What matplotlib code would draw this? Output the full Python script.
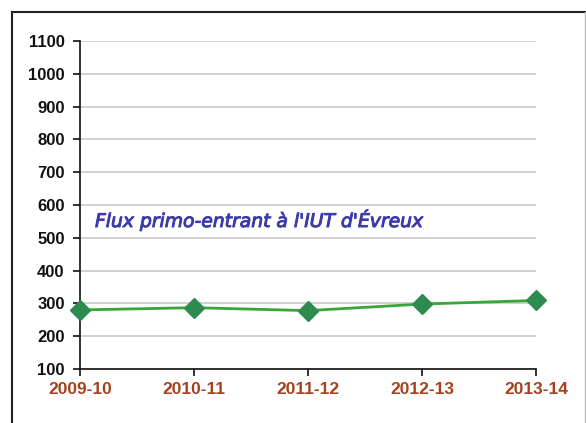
import matplotlib.pyplot as plt
import matplotlib.patheffects as pe
from matplotlib.lines import Line2D

# data
years = ['2009-10', '2010-11', '2011-12', '2012-13', '2013-14']
flux = [280, 287, 278, 298, 309]
y_ticks = list(range(100, 1101, 100))

title = "Flux primo-entrant à l'IUT d'Évreux"

plt.rcParams['font.family'] = ['Liberation Sans', 'DejaVu Sans']

fig = plt.figure(figsize=(5.86, 4.23), dpi=100)
ax = fig.add_axes([80 / 586, 1 - 369 / 423, 456 / 586, 328 / 423])

# outer frame (left/top dark, right faint)
fig.add_artist(Line2D([12 / 586, 12 / 586], [0, 1 - 12 / 423], color='#222222', lw=1.5))
fig.add_artist(Line2D([12 / 586, 585 / 586], [1 - 12 / 423, 1 - 12 / 423], color='#222222', lw=1.5))
fig.add_artist(Line2D([585 / 586, 585 / 586], [0, 1 - 12 / 423], color='#bbbbbb', lw=1))

x = list(range(len(years)))
ax.plot(x, flux, color='#3aa63a', lw=2, marker='D', markersize=10,
        markerfacecolor='#2e8b50', markeredgecolor='#2e8b50', zorder=3, clip_on=False)

ax.set_xlim(0, len(years) - 1)
ax.set_ylim(100, 1100)
ax.set_yticks(y_ticks)
ax.set_xticks(x)
ax.set_xticklabels(years, color='#a5421e', fontweight='bold', fontsize=12.5)
ax.set_yticklabels([str(v) for v in y_ticks], fontweight='bold', fontsize=12, color='#111111')
ax.tick_params(axis='both', direction='out', length=5, width=1.2, color='#111111')
ax.tick_params(axis='x', pad=4)
ax.tick_params(axis='y', pad=6)

ax.grid(axis='y', color='#c8c8c8', lw=1.2)
ax.set_axisbelow(True)
for side in ['top', 'right']:
    ax.spines[side].set_visible(False)
for side in ['left', 'bottom']:
    ax.spines[side].set_linewidth(1.2)
    ax.spines[side].set_color('#111111')

ax.text(95 / 586, 1 - 220 / 423, title, transform=fig.transFigure, fontsize=13.5,
        family='DejaVu Sans', style='oblique', fontweight='normal', color='#3a3aaa',
        va='center', ha='left',
        path_effects=[pe.withStroke(linewidth=0.7, foreground='#3a3aaa')])

fig.savefig('out.png', dpi=100)
